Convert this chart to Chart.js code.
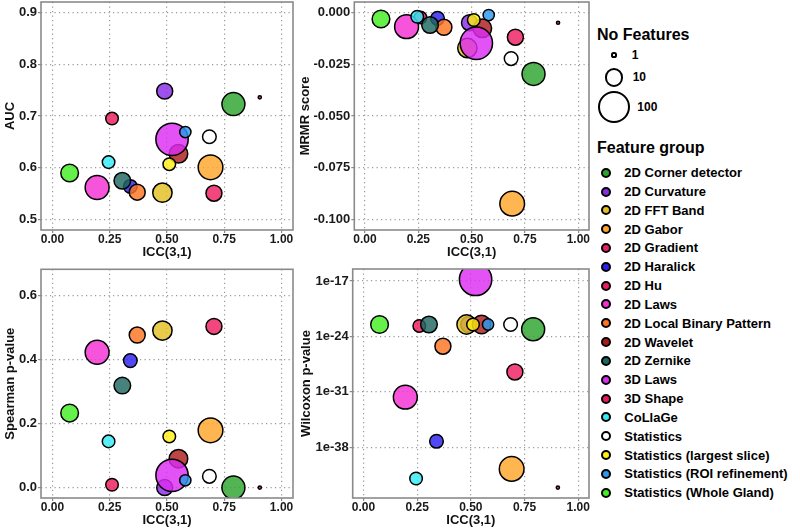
<!DOCTYPE html>
<html><head><meta charset="utf-8">
<script src="https://cdn.jsdelivr.net/npm/chart.js@4/dist/chart.umd.min.js"></script>
<style>
html,body{margin:0;padding:0;background:#fff;}
#wrap{position:relative;width:800px;height:529px;overflow:hidden;font-family:"Liberation Sans",Arial,sans-serif;font-weight:bold;color:#000;}
canvas{position:absolute;}
.lg{position:absolute;white-space:nowrap;line-height:1;}
.dot{position:absolute;border-radius:50%;box-sizing:border-box;border:2px solid #000;}
</style></head><body>
<div id="wrap">
<canvas id="cAUC"></canvas>
<canvas id="cMRMR"></canvas>
<canvas id="cSpear"></canvas>
<canvas id="cWilc"></canvas>
<div id="legend"></div>
</div>
<script>
// ---------------- data ----------------
const groups = ["2D Corner detector","2D Curvature","2D FFT Band","2D Gabor","2D Gradient","2D Haralick","2D Hu","2D Laws","2D Local Binary Pattern","2D Wavelet","2D Zernike","3D Laws","3D Shape","CoLlaGe","Statistics","Statistics (largest slice)","Statistics (ROI refinement)","Statistics (Whole Gland)"];
const groupColors = ["#2ca42c","#8a2be6","#e3bf22","#ffa52a","#ef1f62","#2a20f0","#ee1c5d","#f42ed2","#ff7422","#ad1c1c","#1f6660","#dc2cf2","#e8195a","#34ecf6","#ffffff","#ffee12","#2a98f0","#44ee22"];
const nFeatures = [30, 9, 16, 40, 9, 6, 5, 35, 9, 14, 10, 150, 1, 5, 6, 5, 4, 12];
const icc = [0.79, 0.49, 0.48, 0.69, 0.705, 0.34, 0.26, 0.195, 0.37, 0.55, 0.305, 0.522, 0.905, 0.245, 0.685, 0.51, 0.58, 0.075];
const auc = [0.723, 0.748, 0.552, 0.601, 0.551, 0.564, 0.695, 0.562, 0.553, 0.627, 0.575, 0.655, 0.736, 0.611, 0.660, 0.607, 0.669, 0.590];
const mrmr = [-0.0297, -0.0050, -0.0172, -0.0923, -0.0120, -0.0029, -0.0025, -0.0069, -0.0072, -0.0077, -0.0061, -0.0149, -0.0050, -0.0021, -0.0223, -0.0037, -0.0013, -0.0032];
const spearman = [0.0, 0.0, 0.491, 0.179, 0.504, 0.397, 0.009, 0.423, 0.477, 0.0905, 0.319, 0.0384, 0.0, 0.1445, 0.0353, 0.160, 0.0228, 0.233];
const wilcoxon = [8.1e-24, 3.2e-23, 3.2e-23, 1.8e-41, 3.2e-29, 5.6e-38, 2.1e-23, 2.1e-32, 5.8e-26, 3.2e-23, 3.2e-23, 1.6e-17, 7.9e-44, 1.1e-42, 3.2e-23, 3.2e-23, 3.2e-23, 3.2e-23];
const xTicks = [0, 0.25, 0.5, 0.75, 1];
const aucTicks = [0.5, 0.6, 0.7, 0.8, 0.9];
const mrmrTicks = [0, -0.025, -0.05, -0.075, -0.1];
const spearmanTicks = [0, 0.2, 0.4, 0.6];
const wilcoxonTicks = [1e-38, 1e-31, 1e-24, 1e-17];
const sizeLegend = [1, 10, 100];

// ---------------- helpers ----------------
function radius(n){ return 1.6 + 6.7*Math.log10(n); }
function rgba(hex,a){const n=parseInt(hex.slice(1),16);return `rgba(${n>>16&255},${n>>8&255},${n&255},${a})`;}
const FONT = "'Liberation Sans', Arial, sans-serif";
const borderPlugin = {
  id:'panelBorder',
  afterDatasetsDraw(chart){
    const a=chart.chartArea, c=chart.ctx;
    c.save(); c.strokeStyle='#8a8a8a'; c.lineWidth=1.6;
    c.strokeRect(a.left,a.top,a.right-a.left,a.bottom-a.top);
    c.restore();
  }
};

function makePanel(cfg){
  const canvas=document.getElementById(cfg.id);
  canvas.width=cfg.w; canvas.height=cfg.h;
  canvas.style.left=cfg.left+'px'; canvas.style.top=cfg.top+'px';
  canvas.style.width=cfg.w+'px'; canvas.style.height=cfg.h+'px';
  const datasets=groups.map((g,i)=>({
    label:g,
    data:[{x:icc[i], y:cfg.values[i], r:radius(nFeatures[i])}],
    backgroundColor:rgba(groupColors[i],0.82),
    borderColor:'#000', borderWidth:1.5,
    order:groups.length-i
  }));
  const gridCfg={color:'#9a9a9a', lineWidth:1.2, tickLength:3, tickColor:'#8a8a8a', tickWidth:1.2, tickBorderDash:[]};
  const borderCfg={display:false, dash:[1.2,3.3]};
  const yScale={
    type:cfg.log?'logarithmic':'linear', min:cfg.ymin, max:cfg.ymax, bounds:'data',
    afterBuildTicks(s){ s.ticks=cfg.ticks.map(v=>({value:v})); },
    afterFit(s){ s.width=cfg.yw; s.paddingTop=0; s.paddingBottom=0; },
    ticks:{callback:cfg.fmt, font:{family:FONT, size:13, weight:'bold', lineHeight:1.1}, color:'#1a1a1a', padding:1, autoSkip:false},
    grid:gridCfg, border:borderCfg,
    title:{display:true, text:cfg.ytitle, color:'#111', font:{family:FONT, size:13, weight:'bold', lineHeight:1.2}, padding:{top:cfg.ytp, bottom:0}}
  };
  new Chart(canvas,{
    type:'bubble',
    data:{datasets},
    options:{
      responsive:false, animation:false, devicePixelRatio:1,
      layout:{autoPadding:false, padding:{top:cfg.padTop, right:3, left:0, bottom:0}},
      plugins:{legend:{display:false}, tooltip:{enabled:false}},
      scales:{
        x:{type:'linear', min:-0.05, max:1.05, bounds:'data',
          afterBuildTicks(s){ s.ticks=xTicks.map(v=>({value:v})); },
          afterFit(s){ s.height=31; s.paddingLeft=0; s.paddingRight=0; },
          ticks:{callback:v=>v.toFixed(2), font:{family:FONT, size:12, weight:'bold', lineHeight:1.1}, color:'#1a1a1a', padding:0, maxRotation:0, autoSkip:false},
          grid:gridCfg, border:borderCfg,
          title:{display:true, text:'ICC(3,1)', color:'#111', font:{family:FONT, size:13, weight:'bold', lineHeight:1.2}, padding:{top:0, bottom:0.5}}
        },
        y:yScale
      }
    },
    plugins:[borderPlugin]
  });
}

makePanel({id:'cAUC', left:0, top:0, w:296, h:261, yw:41, padTop:2, ytp:2.2,
  values:auc, ymin:0.48, ymax:0.92, ticks:aucTicks, fmt:v=>Number(v).toFixed(1), ytitle:'AUC'});
makePanel({id:'cMRMR', left:296, top:0, w:296, h:261, yw:58.3, padTop:2, ytp:1.2,
  values:mrmr, ymin:-0.105, ymax:0.005, ticks:mrmrTicks, fmt:v=>{const s=Number(v).toFixed(3);return s==='-0.000'?'0.000':s;}, ytitle:'MRMR score'});
makePanel({id:'cSpear', left:0, top:262, w:296, h:267, yw:41, padTop:7.3, ytp:2.2,
  values:spearman, ymin:-0.0325, ymax:0.6825, ticks:spearmanTicks, fmt:v=>Number(v).toFixed(1), ytitle:'Spearman p-value'});
makePanel({id:'cWilc', left:296, top:262, w:296, h:267, yw:56.7, padTop:7, ytp:2.2, log:true,
  values:wilcoxon, ymin:Math.pow(10,-44.42), ymax:Math.pow(10,-15.48), ticks:wilcoxonTicks,
  fmt:v=>'1e'+Math.round(Math.log10(v)), ytitle:'Wilcoxon p-value'});

// ---------------- legend ----------------
const lg=document.getElementById('legend');
function addText(txt,left,cy,size){
  const d=document.createElement('div'); d.className='lg';
  d.style.left=left+'px'; d.style.top=(cy-size/2)+'px'; d.style.fontSize=size+'px';
  d.textContent=txt; lg.appendChild(d);
}
function addDot(cx,cy,rVis,bw,fill){
  const d=document.createElement('div'); d.className='dot';
  d.style.width=(2*rVis)+'px'; d.style.height=(2*rVis)+'px';
  d.style.left=(cx-rVis)+'px'; d.style.top=(cy-rVis)+'px';
  d.style.borderWidth=bw+'px'; d.style.background=fill; lg.appendChild(d);
}
addText('No Features',597,35,16);
const sizeY=[55,77.3,106.7], sizeTX=[631.7,632.7,637.3];
sizeLegend.forEach((n,i)=>{ addDot(614,sizeY[i],radius(n)+1,2,'#fff'); addText(String(n),sizeTX[i],sizeY[i],12); });
addText('Feature group',597,147.7,16);
groups.forEach((g,i)=>{ const cy=172.7+i*18.82; addDot(605.7,cy,5,2,groupColors[i]); addText(g,624.3,cy,13); });
</script>
</body></html>
